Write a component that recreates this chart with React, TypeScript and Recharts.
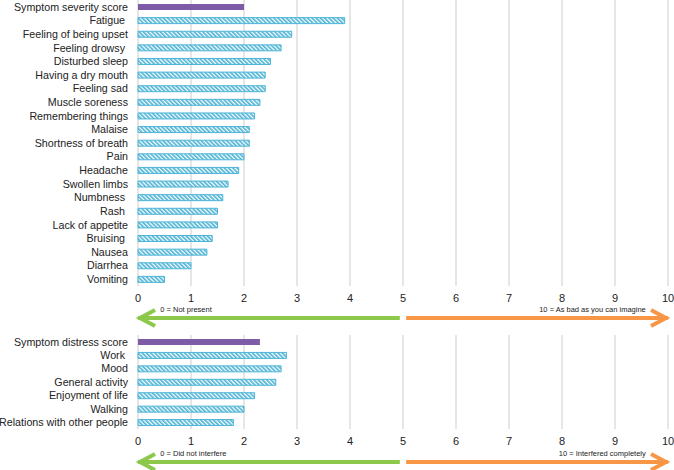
import React from 'react';
import {
  BarChart,
  Bar,
  Cell,
  XAxis,
  YAxis,
  CartesianGrid,
  LineChart,
  Line,
  ReferenceDot,
} from 'recharts';

// Symptom severity (0-10)
const severityLabels = [
  'Symptom severity score',
  'Fatigue\u00A0',
  'Feeling of being upset',
  'Feeling drowsy\u00A0',
  'Disturbed sleep',
  'Having a dry mouth',
  'Feeling sad',
  'Muscle soreness',
  'Remembering things',
  'Malaise',
  'Shortness of breath',
  'Pain',
  'Headache',
  'Swollen limbs',
  'Numbness\u00A0',
  'Rash\u00A0',
  'Lack of appetite',
  'Bruising\u00A0',
  'Nausea',
  'Diarrhea',
  'Vomiting',
];
const severityValues = [2.0, 3.9, 2.9, 2.7, 2.5, 2.4, 2.4, 2.3, 2.2, 2.1, 2.1, 2.0, 1.9, 1.7, 1.6, 1.5, 1.5, 1.4, 1.3, 1.0, 0.5];

// Symptom interference (0-10)
const distressLabels = [
  'Symptom distress score',
  'Work\u00A0',
  'Mood',
  'General activity',
  'Enjoyment of life',
  'Walking',
  'Relations with other people',
];
const distressValues = [2.3, 2.8, 2.7, 2.6, 2.2, 2.0, 1.8];

const xTicks = [0, 1, 2, 3, 4, 5, 6, 7, 8, 9, 10];

// arrow shafts under each panel (scale units)
const leftArrow = [{ x: 4.94, y: 0.5 }, { x: 0, y: 0.5 }];
const rightArrow = [{ x: 5.06, y: 0.5 }, { x: 10, y: 0.5 }];

const FONT = '"Liberation Sans", Arial, Helvetica, sans-serif';
const PURPLE = '#7d5ba6';
const BLUE = '#4eb4d6';
const GREEN = '#8cc84b';
const ORANGE = '#f79646';
const GRID = '#d6d6d6';
const TEXT = '#222';

const toRows = (labels: string[], values: number[]) =>
  labels.map((name, i) => ({ name, value: values[i] }));

// plain text tick so long labels stay on one line
const CategoryTick = (props: any) => {
  const { x, y, payload } = props;
  return (
    <text x={x} y={y} dy="0.36em" textAnchor="end" fontSize={10.7} fill={TEXT} fontFamily={FONT}>
      {payload.value}
    </text>
  );
};

const Panel = ({ rows, id, height }: { rows: { name: string; value: number }[]; id: string; height: number }) => (
  <BarChart
    width={674}
    height={height}
    data={rows}
    layout="vertical"
    margin={{ top: 0, right: 6, bottom: 0, left: 0 }}
    barCategoryGap={0}
  >
    <defs>
      <pattern id={id} patternUnits="userSpaceOnUse" width={3} height={3} patternTransform="rotate(-45)">
        <rect x={0} y={0} width={3} height={3} fill="#ffffff" />
        <rect x={0} y={0} width={1.7} height={3} fill={BLUE} />
      </pattern>
    </defs>
    <CartesianGrid horizontal={false} stroke={GRID} strokeWidth={1.2} />
    <XAxis
      type="number"
      domain={[0, 10]}
      ticks={xTicks}
      interval={0}
      tickLine={false}
      axisLine={false}
      height={20}
      tick={{ fontSize: 11, fill: TEXT, fontFamily: FONT }}
    />
    <YAxis
      type="category"
      dataKey="name"
      width={138}
      interval={0}
      tickLine={false}
      axisLine={false}
      tickMargin={4}
      tick={<CategoryTick />}
    />
    <Bar dataKey="value" barSize={6} isAnimationActive={false}>
      {rows.map((r, i) =>
        i === 0 ? (
          <Cell key={r.name} fill={PURPLE} />
        ) : (
          <Cell key={r.name} fill={`url(#${id})`} stroke={BLUE} strokeWidth={1} />
        )
      )}
    </Bar>
  </BarChart>
);

const arrowHead = (dir: 1 | -1) => (props: any) => {
  const { cx, cy, index, stroke } = props;
  if (index !== 1) return <g key={`d${index}`} />;
  const bx = cx - dir * 2;
  return (
    <polyline
      key={`d${index}`}
      points={`${bx - dir * 15},${cy - 8} ${bx},${cy} ${bx - dir * 15},${cy + 8}`}
      fill="none"
      stroke={stroke}
      strokeWidth={4}
      strokeLinejoin="miter"
    />
  );
};

const note = (anchor: 'start' | 'end', text: string) => (props: any) => (
  <text x={props.cx} y={props.cy - 6} textAnchor={anchor} fontSize={7.5} fill={TEXT} fontFamily={FONT}>
    {text}
  </text>
);

const Arrows = ({ left, right }: { left: string; right: string }) => (
  <LineChart width={674} height={30} margin={{ top: 0, right: 6, bottom: 0, left: 138 }}>
    <XAxis type="number" dataKey="x" domain={[0, 10]} hide />
    <YAxis type="number" domain={[0, 1]} hide />
    <Line
      data={leftArrow}
      dataKey="y"
      stroke={GREEN}
      strokeWidth={4}
      dot={arrowHead(-1)}
      activeDot={false}
      isAnimationActive={false}
    />
    <Line
      data={rightArrow}
      dataKey="y"
      stroke={ORANGE}
      strokeWidth={4}
      dot={arrowHead(1)}
      activeDot={false}
      isAnimationActive={false}
    />
    <ReferenceDot x={0.42} y={0.5} r={0} shape={note('start', left)} />
    <ReferenceDot x={9.58} y={0.5} r={0} shape={note('end', right)} />
  </LineChart>
);

export default function App() {
  return (
    <div style={{ position: 'absolute', left: 0, top: 0, width: 674, height: 470, background: '#fff', fontFamily: FONT }}>
      <div style={{ position: 'absolute', left: 0, top: 0 }}>
        <Panel rows={toRows(severityLabels, severityValues)} id="hatchTop" height={306} />
      </div>
      <div style={{ position: 'absolute', left: 0, top: 303 }}>
        <Arrows left="0 = Not present" right="10 = As bad as you can imagine" />
      </div>
      <div style={{ position: 'absolute', left: 0, top: 335 }}>
        <Panel rows={toRows(distressLabels, distressValues)} id="hatchBottom" height={114} />
      </div>
      <div style={{ position: 'absolute', left: 0, top: 447 }}>
        <Arrows left="0 = Did not interfere" right="10 = Interfered completely" />
      </div>
    </div>
  );
}
